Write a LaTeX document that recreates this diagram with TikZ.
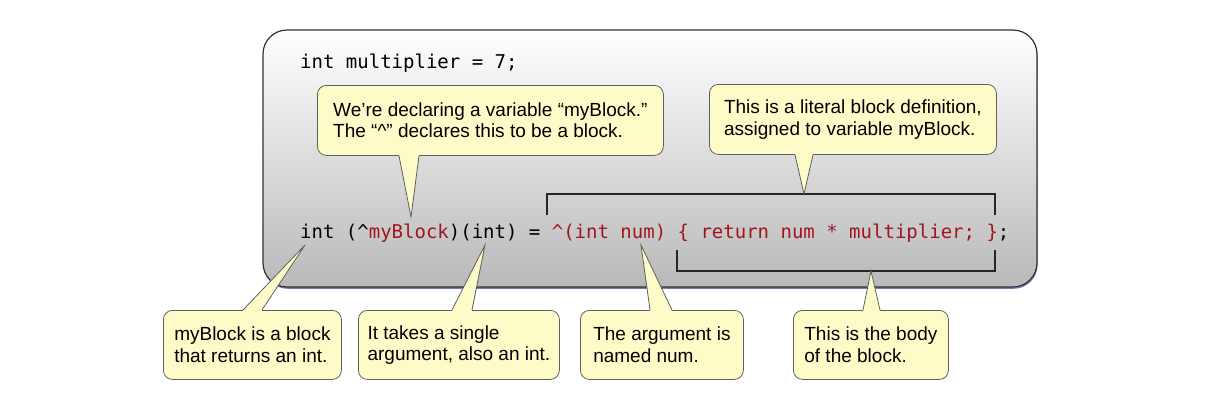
\documentclass[tikz,border=0pt]{standalone}
\usepackage{fontspec}
\setmainfont{Liberation Sans}
\newfontfamily\codefont{DejaVu Sans Mono}
\usepackage{tikz}
\usetikzlibrary{shadows}
\definecolor{noteyellow}{RGB}{253,251,200}
\definecolor{noteline}{RGB}{95,95,95}
\definecolor{codered}{RGB}{160,22,30}
\definecolor{panelshadow}{RGB}{105,105,170}

% pointer of a callout: base left, base right, tip
\newcommand{\pin}[3]{%
  \fill[noteyellow] (#1) -- (#3) -- (#2) -- cycle;
  \draw[noteyellow, line width=1.8pt] (#1) -- (#2);
  \draw[pinline] (#1) -- (#3) -- (#2);}

\begin{document}
\begin{tikzpicture}[x=1pt, y=-1pt]
        \tikzset{panel/.style = {draw=black!80, line width=1.2pt, rounded corners=24pt, top color=white, bottom color=gray!55, drop shadow={shadow xshift=0.6pt, shadow yshift=-1.8pt, fill=panelshadow, opacity=0.9}}}
        \tikzset{note/.style = {draw=noteline, line width=0.8pt, fill=noteyellow, rounded corners=9pt, align=left, inner xsep=0pt, anchor=north west, font=\fontsize{19}{21.5}\selectfont}}
        \tikzset{pinline/.style = {draw=noteline, line width=0.8pt, line join=miter}}
        \tikzset{code/.style = {anchor=base west, inner sep=0pt, font=\codefont\fontsize{19}{19}\selectfont}}
        \tikzset{bracket/.style = {draw=black!85, line width=1.4pt}}
        \useasboundingbox (0,0) rectangle (1218,410);
        % panel
        \node[panel, minimum width=774pt, minimum height=257pt] (panel) at (650,158.5) {};
        % code
        \node[code] (line1) at (300,68) {int multiplier = 7;};
        \node[code] (line2) at (300,238) {int (\textasciicircum\textcolor{codered}{myBlock})(int) = \textcolor{codered}{\textasciicircum(int num) \{ return num * multiplier; \}};};
        % brackets
        \draw[bracket] (547,215) |- (995,194) -- (995,215);
        \draw[bracket] (677,250) |- (995,271) -- (995,250);
        % tips
        \coordinate (declare tip) at (411,217);
        \coordinate (literal tip) at (804,194);
        \coordinate (returns tip) at (305,245);
        \coordinate (takes tip) at (485,245);
        \coordinate (argnum tip) at (641,245);
        \coordinate (body tip) at (871,271);
        % callouts
        \node[note, minimum width=346pt, minimum height=70pt] (declare) at (317,85) {We’re declaring a variable “myBlock.”\\The “\textasciicircum” declares this to be a block.};
        \node[note, minimum width=287pt, minimum height=70pt] (literal) at (709,84) {This is a literal block definition,\\assigned to variable myBlock.};
        \node[note, minimum width=178pt, minimum height=69pt] (returns) at (163,310) {myBlock is a block\\that returns an int.};
        \node[note, minimum width=201pt, minimum height=69pt] (takes) at (358,310) {It takes a single\\argument, also an int.};
        \node[note, minimum width=163pt, minimum height=69pt] (argnum) at (580,310) {The argument is\\named num.};
        \node[note, minimum width=155pt, minimum height=69pt] (body) at (793,310) {This is the body\\of the block.};
        % pointers
        \pin{[xshift=82pt]declare.south west}{[xshift=102pt]declare.south west}{declare tip}
        \pin{[xshift=86pt]literal.south west}{[xshift=104pt]literal.south west}{literal tip}
        \pin{[xshift=80pt]returns.north west}{[xshift=99pt]returns.north west}{returns tip}
        \pin{[xshift=94pt]takes.north west}{[xshift=114pt]takes.north west}{takes tip}
        \pin{[xshift=70pt]argnum.north west}{[xshift=92pt]argnum.north west}{argnum tip}
        \pin{[xshift=70pt]body.north west}{[xshift=87pt]body.north west}{body tip}
\end{tikzpicture}
\end{document}
